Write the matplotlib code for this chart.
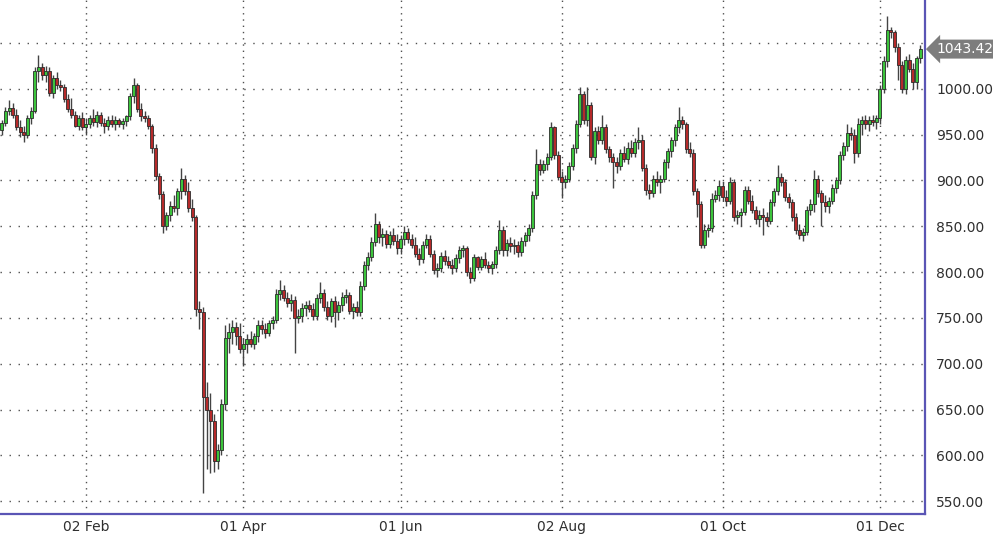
import numpy as np
import pandas as pd
import matplotlib
matplotlib.use("Agg")
import matplotlib.pyplot as plt
import matplotlib.transforms as mtransforms

# ---------------- data ----------------
# bar labels (Sun-Thu stamped daily bars)
all_days = pd.date_range("2019-12-31", "2020-12-16")
dates = all_days[all_days.dayofweek.isin([6, 0, 1, 2, 3])]

open_ = [
    955, 963, 976, 979, 972, 958, 953, 950, 968, 976,
    1020, 1024, 1015, 1020, 996, 1012, 1004, 1002, 989, 978,
    972, 960, 968, 958, 962, 968, 964, 972, 963, 960,
    966, 962, 966, 962, 965, 970, 992, 1004, 978, 970,
    968, 960, 936, 905, 885, 850, 862, 872, 870, 888,
    902, 888, 870, 860, 760, 756, 664, 650, 638, 594,
    606, 656, 728, 735, 740, 730, 716, 722, 727, 722,
    730, 742, 738, 734, 744, 748, 776, 780, 772, 766,
    770, 750, 752, 761, 764, 760, 752, 772, 777, 762,
    752, 768, 756, 764, 773, 775, 758, 762, 756, 785,
    808, 817, 833, 852, 838, 842, 831, 840, 834, 826,
    836, 844, 836, 830, 820, 814, 830, 836, 820, 802,
    804, 818, 812, 808, 804, 815, 824, 826, 800, 794,
    816, 806, 814, 808, 804, 809, 824, 846, 824, 832,
    828, 830, 822, 834, 840, 848, 884, 918, 912, 918,
    926, 958, 928, 904, 898, 902, 916, 936, 962, 994,
    966, 982, 926, 954, 944, 958, 934, 926, 920, 916,
    930, 924, 936, 930, 942, 944, 914, 890, 886, 902,
    898, 902, 920, 932, 944, 958, 966, 962, 934, 930,
    888, 874, 830, 846, 848, 880, 884, 894, 882, 878,
    898, 860, 862, 866, 890, 878, 868, 858, 862, 860,
    856, 876, 888, 904, 898, 882, 876, 860, 846, 840,
    844, 868, 874, 902, 886, 876, 872, 878, 892, 900,
    928, 938, 952, 950, 930, 962, 966, 962, 966, 964,
    968, 1000, 1030, 1064, 1062, 1046, 1026, 1000, 1032, 1022,
    1008, 1034,
]
high = [
    966, 980, 988, 985, 978, 966, 960, 972, 980, 1024,
    1037, 1028, 1025, 1024, 1015, 1018, 1010, 1005, 994, 990,
    976, 972, 975, 968, 972, 978, 976, 975, 968, 970,
    972, 970, 968, 968, 972, 996, 1012, 1006, 985, 976,
    972, 962, 940, 908, 888, 866, 878, 884, 892, 914,
    906, 898, 880, 862, 768, 762, 680, 668, 645, 612,
    662, 742, 745, 748, 746, 744, 728, 732, 736, 734,
    748, 748, 745, 748, 752, 782, 791, 786, 778, 776,
    774, 760, 766, 768, 770, 766, 776, 789, 782, 768,
    772, 774, 768, 778, 782, 778, 766, 768, 790, 812,
    822, 838, 865, 856, 848, 846, 845, 848, 842, 840,
    850, 848, 842, 838, 826, 834, 842, 840, 824, 810,
    822, 824, 818, 814, 820, 828, 830, 828, 806, 820,
    818, 818, 822, 812, 812, 828, 857, 850, 836, 838,
    836, 834, 838, 844, 852, 888, 934, 924, 922, 930,
    964, 960, 932, 910, 906, 920, 940, 966, 1002, 998,
    1002, 986, 958, 960, 972, 962, 938, 930, 926, 934,
    938, 942, 944, 946, 958, 950, 918, 896, 906, 910,
    906, 924, 936, 948, 962, 980, 970, 964, 942, 934,
    892, 878, 852, 852, 886, 890, 900, 898, 890, 904,
    902, 868, 870, 894, 894, 884, 872, 868, 870, 866,
    880, 892, 917, 908, 902, 886, 880, 864, 852, 848,
    872, 880, 912, 906, 890, 884, 882, 896, 904, 932,
    942, 962, 958, 956, 968, 970, 972, 970, 972, 972,
    1004, 1036, 1079, 1068, 1064, 1050, 1030, 1036, 1038, 1028,
    1036, 1048,
]
low = [
    950, 960, 972, 968, 955, 948, 942, 946, 962, 974,
    1008, 1010, 1008, 992, 990, 1000, 998, 986, 975, 968,
    958, 955, 955, 950, 957, 960, 958, 960, 952, 955,
    958, 955, 958, 956, 960, 966, 985, 975, 965, 964,
    956, 930, 900, 880, 843, 846, 856, 866, 862, 880,
    884, 866, 856, 752, 738, 559, 585, 581, 582, 585,
    600, 650, 712, 722, 720, 712, 697, 712, 718, 716,
    724, 732, 728, 730, 738, 744, 770, 768, 762, 758,
    712, 744, 746, 752, 756, 748, 748, 766, 758, 748,
    746, 740, 748, 758, 766, 754, 750, 752, 752, 780,
    802, 812, 828, 832, 828, 826, 826, 830, 820, 820,
    830, 832, 826, 816, 808, 810, 826, 816, 798, 795,
    800, 808, 804, 798, 800, 810, 816, 796, 788, 790,
    802, 802, 804, 800, 798, 804, 820, 818, 818, 822,
    820, 816, 818, 828, 834, 844, 880, 906, 908, 912,
    922, 924, 900, 881, 892, 898, 912, 930, 958, 962,
    960, 922, 918, 940, 940, 930, 920, 892, 908, 912,
    920, 918, 926, 926, 934, 910, 884, 880, 882, 894,
    886, 898, 914, 926, 938, 952, 956, 930, 926, 884,
    860, 826, 826, 838, 844, 876, 878, 878, 872, 874,
    856, 852, 850, 862, 874, 864, 852, 850, 840, 850,
    852, 872, 884, 894, 878, 870, 856, 842, 836, 834,
    840, 862, 866, 882, 850, 866, 864, 874, 886, 896,
    922, 932, 944, 919, 926, 950, 956, 954, 960, 956,
    962, 996, 1024, 1056, 1040, 1010, 996, 994, 1018, 1000,
    1000, 1028,
]
close = [
    963, 976, 979, 972, 958, 953, 950, 968, 976, 1020,
    1024, 1015, 1020, 996, 1012, 1004, 1002, 989, 978, 972,
    960, 968, 958, 962, 968, 964, 972, 963, 960, 966,
    962, 966, 962, 965, 970, 992, 1004, 978, 970, 968,
    960, 936, 905, 885, 850, 862, 872, 870, 888, 902,
    888, 870, 860, 760, 756, 664, 650, 638, 594, 606,
    656, 728, 735, 740, 730, 716, 722, 727, 722, 730,
    742, 738, 734, 744, 748, 776, 780, 772, 766, 770,
    750, 752, 761, 764, 760, 752, 772, 777, 762, 752,
    768, 756, 764, 773, 775, 758, 762, 756, 785, 808,
    817, 833, 852, 838, 842, 831, 840, 834, 826, 836,
    844, 836, 830, 820, 814, 830, 836, 820, 802, 804,
    818, 812, 808, 804, 815, 824, 826, 800, 794, 816,
    806, 814, 808, 804, 809, 824, 846, 824, 832, 828,
    830, 822, 834, 840, 848, 884, 918, 912, 918, 926,
    958, 928, 904, 898, 902, 916, 936, 962, 994, 966,
    982, 926, 954, 944, 958, 934, 926, 920, 916, 930,
    924, 936, 930, 942, 944, 914, 890, 886, 902, 898,
    902, 920, 932, 944, 958, 966, 962, 934, 930, 888,
    874, 830, 846, 848, 880, 884, 894, 882, 878, 898,
    860, 862, 866, 890, 878, 868, 858, 862, 860, 856,
    876, 888, 904, 898, 882, 876, 860, 846, 840, 844,
    868, 874, 902, 886, 876, 872, 878, 892, 900, 928,
    938, 952, 950, 930, 962, 966, 962, 966, 964, 968,
    1000, 1030, 1064, 1062, 1046, 1026, 1000, 1032, 1022, 1008,
    1034, 1043.42,
]
y_ticks = [550, 600, 650, 700, 750, 800, 850, 900, 950, 1000, 1050]
label_year = 2020
label_months = [2, 4, 6, 8, 10, 12]
last_price = close[-1]

# ---------------- figure ----------------
W, H = 993, 534
fig = plt.figure(figsize=(W / 100, H / 100), dpi=100)
fig.patch.set_facecolor("white")
ax = fig.add_axes([0, 20 / H, 925 / W, 514 / H])
ax.set_facecolor("white")

n = min(len(dates), len(open_), len(high), len(low), len(close))
xs = np.arange(n)
o = np.array(open_[:n], float)
h = np.array(high[:n], float)
l = np.array(low[:n], float)
c = np.array(close[:n], float)

up = c >= o
body_col = np.where(up, "#3cc43c", "#b52a2a")
bottom = np.minimum(o, c)
height = np.maximum(np.abs(c - o), 0.8)

ax.vlines(xs, l, h, color="#444444", linewidth=1.0, zorder=2)
ax.bar(xs, height, bottom=bottom, width=0.82, color=body_col,
       edgecolor="#2b2b2b", linewidth=0.6, zorder=3)

ax.set_xlim(-0.5, 252.3)
ax.set_ylim(536, 1097)

# x ticks at first bar of selected months
d = dates[:n]
tick_pos, tick_lab = [], []
for m in label_months:
    idx = np.where((d.month == m) & (d.year == label_year))[0]
    if len(idx):
        tick_pos.append(idx[0])
        tick_lab.append(d[idx[0]].strftime("%d %b"))
ax.set_xticks(tick_pos)
ax.set_xticklabels(tick_lab)

ax.set_yticks(y_ticks)
# the top label sits behind the last-price tag, as in the reference
ax.set_yticklabels([f"{v:.2f}" if v < 1050 else "" for v in y_ticks])
ax.yaxis.tick_right()

ax.tick_params(axis="both", length=0, labelsize=10, labelcolor="#2f2f2f")
ax.tick_params(axis="y", pad=8)
ax.tick_params(axis="x", pad=4)

ax.yaxis.grid(True, linestyle=(0, (1, 5.5)), color="#505050", linewidth=1.0, zorder=0)
ax.xaxis.grid(True, linestyle=(0, (1, 3.5)), color="#505050", linewidth=1.0, zorder=0)
ax.set_axisbelow(True)

for s in ("left", "top"):
    ax.spines[s].set_visible(False)
for s in ("right", "bottom"):
    ax.spines[s].set_color("#5a55b5")
    ax.spines[s].set_linewidth(1.6)

# last-price tag
trans = mtransforms.blended_transform_factory(ax.transAxes, ax.transData)
ax.text(1.012, last_price, f"{last_price:.2f}", transform=trans,
        ha="left", va="center", fontsize=10, color="white", zorder=10,
        clip_on=False,
        bbox=dict(boxstyle="larrow,pad=0.18", fc="#7d7d7d", ec="none"))

fig.savefig("out.png", dpi=100, facecolor="white")
